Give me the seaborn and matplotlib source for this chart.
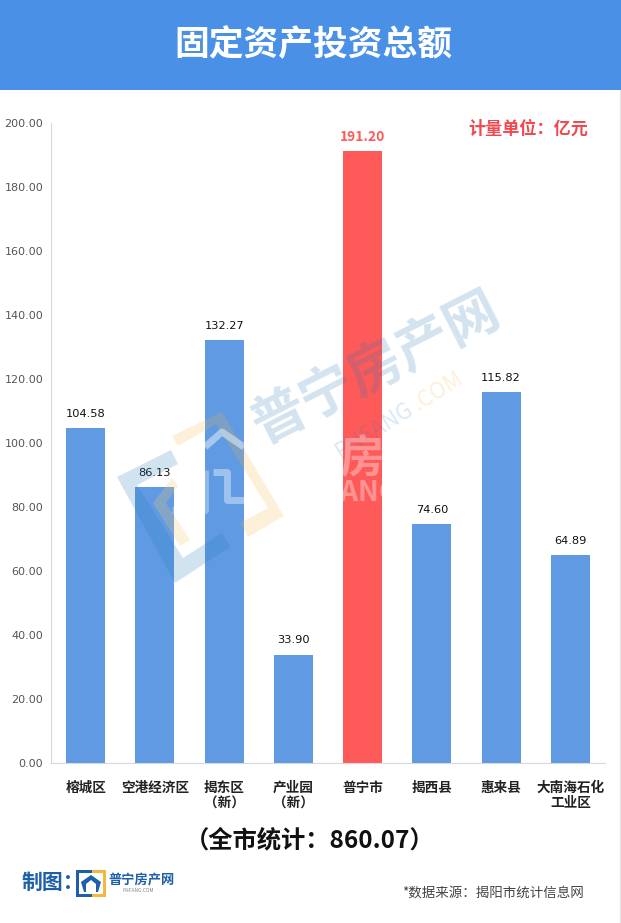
# -*- coding: utf-8 -*-
import matplotlib
matplotlib.use('Agg')
import matplotlib.pyplot as plt
from matplotlib.patches import Polygon, Rectangle
import numpy as np
import pandas as pd
import seaborn as sns

sns.set_style('white')
plt.rcParams['font.family'] = ['Noto Sans CJK SC', 'DejaVu Sans']

# data
categories = ['榕城区', '空港经济区', '揭东区\n\uff08新\uff09', '产业园\n\uff08新\uff09', '普宁市', '揭西县', '惠来县', '大南海石化\n工业区']
values = [104.58, 86.13, 132.27, 33.90, 191.20, 74.60, 115.82, 64.89]
bar_colors = ['#5f9ae3', '#5f9ae3', '#5f9ae3', '#5f9ae3', '#ff5a5a', '#5f9ae3', '#5f9ae3', '#5f9ae3']
y_ticks = [0, 20, 40, 60, 80, 100, 120, 140, 160, 180, 200]

W, H = 621, 923
df = pd.DataFrame({'area': categories, 'value': values})

fig = plt.figure(figsize=(W / 100, H / 100), dpi=100, facecolor='white')
ax = fig.add_axes([51 / W, 1 - 763 / H, 554 / W, 640 / H])

sns.barplot(data=df, x='area', y='value', hue='area', palette=bar_colors, dodge=False,
            legend=False, width=0.565, saturation=1, linewidth=0, ax=ax)

ax.set_xlim(-0.5, 7.5)
ax.set_ylim(0, 200)
ax.set_xlabel('')
ax.set_ylabel('')
ax.set_yticks(y_ticks)
ax.set_yticklabels(['%.2f' % t for t in y_ticks], fontsize=8, color='#555555',
                   family=['DejaVu Sans'])
ax.tick_params(axis='y', length=0, pad=5.5)
ax.set_xticks(range(len(categories)))
ax.set_xticklabels(categories, fontsize=9.8, fontweight='bold', color='#222222', linespacing=1.1)
ax.set_xticks(np.arange(-0.5, 8), minor=True)
ax.tick_params(axis='x', which='major', length=0, pad=13)
ax.tick_params(axis='x', which='minor', length=4, width=1, color='#d9d9d9')
sns.despine(ax=ax, top=True, right=True)
ax.spines['left'].set_color('#d9d9d9')
ax.spines['bottom'].set_color('#d9d9d9')

# value labels
for i, v in enumerate(values):
    if i == 4:
        ax.annotate('%.2f' % v, (i, v), xytext=(0, 7), textcoords='offset points', ha='center',
                    fontsize=10, color='#ff5a5a', fontweight='bold')
    else:
        ax.annotate('%.2f' % v, (i, v), xytext=(0, 8), textcoords='offset points', ha='center',
                    fontsize=8.2, color='#111111', family=['DejaVu Sans'])

# overlay in pixel coordinates for header, watermark and footer
ov = fig.add_axes([0, 0, 1, 1], facecolor='none')
ov.set_xlim(0, W)
ov.set_ylim(H, 0)
ov.axis('off')

ov.add_patch(Rectangle((0, 0), W, 90, color='#4a90e6', lw=0))
ov.plot([620, 620], [90, H], color='#e3e3e3', lw=1)
ov.text(313, 45, '固定资产投资总额', color='white', fontsize=25, fontweight='bold', ha='center', va='center')
ov.text(528, 129, '计量单位\uff1a亿元', color='#f0484e', fontsize=12.3, fontweight='bold', ha='center', va='center')
ov.text(310, 840, '\uff08全市统计\uff1a860.07\uff09', color='#111111', fontsize=17.5, fontweight='bold', ha='center', va='center')
ov.text(22, 882, '制图\uff1a', color='#1f5fa8', fontsize=15, fontweight='bold', ha='left', va='center')
ov.text(493, 893, '*数据来源\uff1a揭阳市统计信息网', color='#444444', fontsize=9.7, ha='center', va='center')

# watermark
ov.text(376, 369, '普宁房产网', color='#1f77b4', alpha=0.2, fontsize=39, fontweight='bold',
        rotation=27, ha='center', va='center', rotation_mode='anchor')
ov.text(374, 430, 'PNFANG', color='#1f77b4', alpha=0.16, fontsize=16, rotation=32,
        ha='center', va='center', rotation_mode='anchor')
ov.text(438, 391, '.COM', color='#f5b642', alpha=0.2, fontsize=16, rotation=32,
        ha='center', va='center', rotation_mode='anchor')
# white ghost of the stamp, only shows on the bars
ov.text(362, 458, '房', color='white', alpha=0.35, fontsize=32, fontweight='bold', ha='center', va='center')
ov.text(362, 493, 'FANG', color='white', alpha=0.35, fontsize=20, fontweight='bold', ha='center', va='center')
ov.add_patch(Polygon([(117, 477), (175, 583), (230, 547), (222, 533), (183, 558), (137, 485), (178, 464), (171, 450)],
                     closed=True, color='#1f77b4', alpha=0.2, lw=0))
ov.add_patch(Polygon([(222, 412), (284, 516), (248, 537), (240, 523), (268, 508), (216, 424), (178, 446), (172, 436)],
                     closed=True, color='#f5b642', alpha=0.2, lw=0))
ov.add_patch(Polygon([(153, 503), (172, 478), (178, 486), (166, 503), (190, 540), (180, 546)],
                     closed=True, color='#f5c96a', alpha=0.25, lw=0))
ov.plot([205, 222, 244], [447, 432, 447], color='white', alpha=0.45, lw=5, solid_capstyle='butt')
ov.plot([213, 227, 227, 244], [472, 472, 500, 500], color='white', alpha=0.4, lw=5, solid_capstyle='butt')
ov.plot([172, 205, 205], [510, 510, 470], color='white', alpha=0.3, lw=5, solid_capstyle='butt')

# footer logo
ov.add_patch(Polygon([(76, 870), (92, 870), (92, 873), (79, 873), (79, 894), (92, 894), (92, 897), (76, 897)],
                     closed=True, color='#1f5fa8', lw=0))
ov.add_patch(Polygon([(92, 870), (106, 870), (106, 897), (92, 897), (92, 894), (103, 894), (103, 873), (92, 873)],
                     closed=True, color='#f5b642', lw=0))
ov.add_patch(Polygon([(81, 882), (91, 875), (101, 882), (98, 892), (96, 892), (96, 884), (91, 880), (86, 884), (86, 892), (84, 892)],
                     closed=True, color='#1f5fa8', lw=0))
ov.text(142, 880, '普宁房产网', color='#1f5fa8', fontsize=9.5, fontweight='bold', ha='center', va='center')
ov.text(138, 891, 'PNFANG.COM', color='#888888', fontsize=3.5, ha='center', va='center')

fig.savefig('out.png', dpi=100)
